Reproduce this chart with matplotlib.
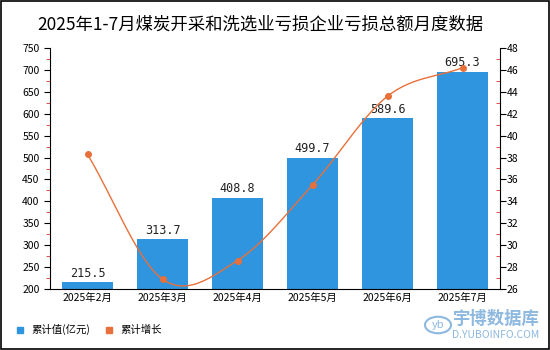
import numpy as np
import matplotlib.pyplot as plt
from matplotlib.patches import Rectangle, Circle
from matplotlib.lines import Line2D

plt.rcParams['font.family'] = ['Noto Sans CJK SC', 'DejaVu Sans']

months = ['2025年2月', '2025年3月', '2025年4月', '2025年5月', '2025年6月', '2025年7月']
loss = [215.5, 313.7, 408.8, 499.7, 589.6, 695.3]
growth = [38.3, 26.9, 28.6, 35.5, 43.6, 46.2]

bar_color = '#2F95DE'
line_color = '#E8703A'
mark_color = '#8DB8E0'


def smooth(xs, ys, n=30):
    # catmull-rom through the points
    xs = np.asarray(xs, float)
    ys = np.asarray(ys, float)
    px = np.concatenate([[2 * xs[0] - xs[1]], xs, [2 * xs[-1] - xs[-2]]])
    py = np.concatenate([[2 * ys[0] - ys[1]], ys, [2 * ys[-1] - ys[-2]]])
    ox, oy = [], []
    t = np.linspace(0, 1, n)
    for i in range(1, len(px) - 2):
        for p, o in ((px, ox), (py, oy)):
            p0, p1, p2, p3 = p[i - 1], p[i], p[i + 1], p[i + 2]
            o.extend(0.5 * (2 * p1 + (-p0 + p2) * t + (2 * p0 - 5 * p1 + 4 * p2 - p3) * t ** 2
                            + (-p0 + 3 * p1 - 3 * p2 + p3) * t ** 3))
    return np.array(ox), np.array(oy)


fig = plt.figure(figsize=(5.5, 3.5), dpi=100)
fig.patches.append(Rectangle((0.002, 0.003), 0.996, 0.994, transform=fig.transFigure,
                             fill=False, edgecolor='black', linewidth=1.2))

ax = fig.add_axes([50 / 550, 61 / 350, 450 / 550, 241 / 350])
x = np.arange(len(months))
bars = ax.bar(x, loss, width=0.667, color=bar_color, zorder=2)
for xi, v in zip(x, loss):
    ax.text(xi, v + 6, f'{v:.1f}', ha='center', va='bottom', fontsize=8.5,
            family='DejaVu Sans Mono', color='#222222')

ax.set_xlim(-0.5, len(months) - 0.5)
ax.set_ylim(200, 750)
ax.set_yticks(np.arange(200, 751, 50))
ax.set_yticks(np.arange(225, 750, 50), minor=True)
ax.set_xticks(x)
ax.set_xticklabels(months, fontsize=7.5)
ax.tick_params(axis='y', labelsize=7.5, length=4, width=0.8)
ax.tick_params(axis='y', which='minor', length=3, color='#E03030')
ax.tick_params(axis='x', length=0, pad=3)
for s in ['top', 'right']:
    ax.spines[s].set_visible(False)

ax2 = ax.twinx()
sx, sy = smooth(x, growth)
ax2.plot(sx, sy, color=line_color, linewidth=1, zorder=3)
ax2.plot(x, growth, 'o', color=line_color, markersize=4, zorder=4)
ax2.set_ylim(26, 48)
ax2.set_yticks(np.arange(26, 49, 2))
ax2.set_yticks(np.arange(27, 48, 2), minor=True)
ax2.tick_params(axis='y', labelsize=7.5, length=4, width=0.8, pad=1)
ax2.tick_params(axis='y', which='minor', length=3, direction='in', color='#E03030')
for s in ['top', 'left', 'bottom']:
    ax2.spines[s].set_visible(False)

fig.text(260 / 550, 1 - 25 / 350, '2025年1-7月煤炭开采和洗选业亏损企业亏损总额月度数据', ha='center',
         va='center', fontsize=12.5)

handles = [Line2D([], [], marker='s', linestyle='', color=bar_color, markersize=5),
           Line2D([], [], marker='s', linestyle='', color=line_color, markersize=5)]
fig.legend(handles, ['累计值(亿元)', '累计增长'], loc='lower left', bbox_to_anchor=(0.0, 0.015),
           ncol=2, frameon=False, fontsize=7.5, handletextpad=0.1, columnspacing=0.8)

# watermark
fig.patches.append(Circle((438 / 550, 1 - 325 / 350), 13 / 550, transform=fig.transFigure,
                          fill=False, edgecolor=mark_color, linewidth=1.5))
fig.text(438 / 550, 1 - 325 / 350, 'yb', ha='center', va='center', fontsize=8,
         color=mark_color, style='italic')
fig.text(496 / 550, 1 - 319 / 350, '宇博数据库', ha='center', va='center', fontsize=12.5,
         color=mark_color, fontweight='bold')
fig.text(496 / 550, 1 - 335 / 350, 'D.YUBOINFO.COM', ha='center', va='center', fontsize=7.5,
         color=mark_color)

fig.savefig('out.png', dpi=100)
